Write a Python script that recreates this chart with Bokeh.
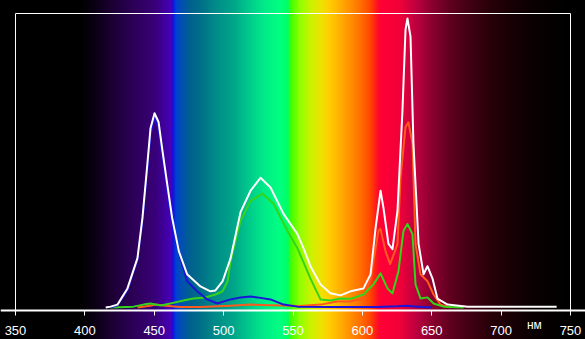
from bokeh.plotting import figure
from bokeh.models import Range1d, FixedTicker, Label, LinearAxis
from bokeh.embed import file_html
from bokeh.resources import INLINE

# ---- data (wavelength in nm, relative intensity) ----
tick_values = [350, 400, 450, 500, 550, 600, 650, 700, 750]
unit_label = "нм"

white_nm = [415, 418.5, 423.5, 430.7, 437.9, 441.5, 445.1, 447.3, 450.2, 453.1,
            455.7, 459.3, 462.9, 467.7, 473.7, 483.3, 490.5, 494.1, 499.2, 505.0,
            512.2, 519.4, 526.6, 533.8, 543.2, 553.2, 558.0, 562.6, 569.8, 577.0,
            584.2, 591.4, 600.8, 605.9, 609.5, 613.1, 615.2, 618.8, 621.7, 625.3,
            628.9, 631.1, 632.5, 634.7, 636.8, 640.5, 644.1, 646.9, 650.5, 654.1,
            661.4, 675.8, 700, 740]
white_val = [0.0, 0.003, 0.01, 0.066, 0.171, 0.31, 0.50, 0.62, 0.672, 0.642,
             0.55, 0.429, 0.31, 0.195, 0.115, 0.073, 0.056, 0.059, 0.09, 0.17,
             0.33, 0.404, 0.449, 0.415, 0.324, 0.254, 0.2, 0.143, 0.080, 0.049,
             0.042, 0.056, 0.066, 0.115, 0.275, 0.404, 0.345, 0.22, 0.202, 0.334,
             0.683, 0.962, 1.0, 0.937, 0.568, 0.22, 0.115, 0.143, 0.101, 0.031,
             0.010, 0.003, 0.003, 0.003]

red_nm = [438, 447, 451, 458, 469, 483, 505, 519, 534, 555, 570, 582, 591, 601,
          606, 611.6, 613, 616.7, 620, 625.3, 627.5, 631.1, 633.2, 636.1, 638.3,
          641.9, 646.9, 651.3, 656.3, 663.5]
red_val = [0.0, 0.006, 0.01, 0.006, 0.002, 0.002, 0.006, 0.01, 0.008, 0.005, 0.01,
           0.021, 0.021, 0.031, 0.101, 0.265, 0.272, 0.195, 0.15, 0.219, 0.449,
           0.624, 0.641, 0.568, 0.22, 0.115, 0.091, 0.045, 0.010, 0.0]

green_nm = [418.5, 435, 442.3, 447.3, 454.5, 461.7, 471.1, 478.3, 486.9, 494.1,
            499.2, 502.8, 505.0, 512.2, 519.4, 528, 536, 546, 553.2, 562.6, 569.8,
            577, 584.2, 591.4, 600.8, 608, 613.1, 618.1, 621.7, 626, 629.6, 632.5,
            636.1, 638.3, 641.9, 646.9, 651.3, 658.5, 672.9]
green_val = [0.0, 0.003, 0.01, 0.014, 0.007, 0.014, 0.024, 0.031, 0.035, 0.045,
             0.056, 0.09, 0.16, 0.30, 0.369, 0.394, 0.359, 0.265, 0.205, 0.1, 0.028,
             0.024, 0.031, 0.03, 0.045, 0.080, 0.118, 0.066, 0.049, 0.125, 0.265,
             0.289, 0.254, 0.080, 0.031, 0.035, 0.014, 0.003, 0.0]

blue_nm = [418.5, 423.5, 430.7, 437.9, 441.5, 445.1, 447.3, 450.2, 453.1, 456.7,
           460.3, 463.9, 470.1, 473.7, 480.9, 488.2, 495.4, 505, 512.2, 519.4,
           524.4, 533.8, 543.2, 553.2, 580, 610, 625, 632, 640, 650]
blue_val = [0.0, 0.008, 0.06, 0.165, 0.30, 0.48, 0.60, 0.655, 0.62, 0.50,
            0.37, 0.26, 0.15, 0.091, 0.056, 0.028, 0.014, 0.028, 0.035, 0.038,
            0.035, 0.028, 0.01, 0.003, 0.002, 0.002, 0.004, 0.006, 0.003, 0.0]

# spectral background: (canvas pixel, colour) stops
bg_stops = [(0, "#000000"), (80, "#000000"), (95, "#0a0014"), (110, "#1a0030"),
            (125, "#26004a"), (140, "#300060"), (155, "#380078"), (165, "#4000a0"),
            (171, "#4800b8"), (173, "#1010e0"), (176, "#0040d0"), (182, "#0050b0"),
            (190, "#00608f"), (200, "#006e88"), (215, "#008a88"), (235, "#00a888"),
            (250, "#00cc8c"), (265, "#00ec88"), (280, "#00ff80"), (288, "#00ff60"),
            (291, "#40ff00"), (300, "#90ff00"), (312, "#d0f000"), (322, "#f0e000"),
            (330, "#ffcc00"), (345, "#ffa000"), (360, "#ff7000"), (370, "#ff4800"),
            (376, "#ff1a1a"), (380, "#ff0035"), (400, "#f00038"), (415, "#c00040"),
            (430, "#900030"), (450, "#600020"), (470, "#400012"), (490, "#280008"),
            (510, "#180004"), (530, "#0c0002"), (550, "#050000"), (570, "#000000"),
            (585, "#000000")]

# ---- layout constants ----
W, H = 585, 339
PX_PER_NM = 555 / 400.0          # 350..750 nm spans 555 px
PX_PER_UNIT = 289.0              # intensity 1.0 -> 289 px
ZERO_PX = 307                    # pixel row of intensity 0 (from top)
AXIS_PX, TOP_PX, MARGIN_X = 310, 13, 15

x0 = tick_values[0] - MARGIN_X / PX_PER_NM
x1 = tick_values[-1] + MARGIN_X / PX_PER_NM
y0 = -(H - ZERO_PX) / PX_PER_UNIT
y1 = ZERO_PX / PX_PER_UNIT
axis_y = -(AXIS_PX - ZERO_PX) / PX_PER_UNIT
top_y = (ZERO_PX - TOP_PX) / PX_PER_UNIT
unit_y = -(324 - ZERO_PX) / PX_PER_UNIT

gradient = "linear-gradient(to right, " + ", ".join(f"{c} {px}px" for px, c in bg_stops) + ")"

p = figure(width=W, height=H, output_backend="svg", toolbar_location=None,
           x_range=Range1d(x0, x1), y_range=Range1d(y0, y1),
           x_axis_location=None, y_axis_location=None,
           min_border=0, min_border_left=0, min_border_right=0,
           min_border_top=0, min_border_bottom=0)
p.styles = {"background-image": gradient}
p.background_fill_color = None
p.border_fill_color = None
p.outline_line_color = None
p.xgrid.visible = False
p.ygrid.visible = False

# frame box
p.quad(left=tick_values[0], right=tick_values[-1], bottom=axis_y, top=top_y,
       fill_color=None, line_color="white", line_width=1)

ax = LinearAxis(fixed_location=axis_y)
ax.ticker = FixedTicker(ticks=tick_values)
ax.axis_line_color = "white"
ax.axis_line_width = 2
ax.major_tick_line_color = "white"
ax.major_tick_line_width = 1
ax.major_tick_out = 5
ax.major_tick_in = 0
ax.minor_tick_line_color = None
ax.major_label_text_color = "white"
ax.major_label_text_font = "Liberation Sans"
ax.major_label_text_font_size = "13px"
ax.major_label_standoff = 10
p.add_layout(ax, "below")

kw = dict(line_width=2, line_join="round")
p.line(red_nm, red_val, line_color="#ff5a1e", **kw)
p.line(green_nm, green_val, line_color="#33d41a", **kw)
p.line(blue_nm, blue_val, line_color="#1a14d8", **kw)
p.line(white_nm, white_val, line_color="#ffffff", **kw)

p.add_layout(Label(x=724, y=unit_y, text=unit_label, text_color="white",
                   text_font="Liberation Sans", text_font_size="12px",
                   text_align="center", text_baseline="middle"))

open("out.html", "w").write(file_html(p, INLINE))
